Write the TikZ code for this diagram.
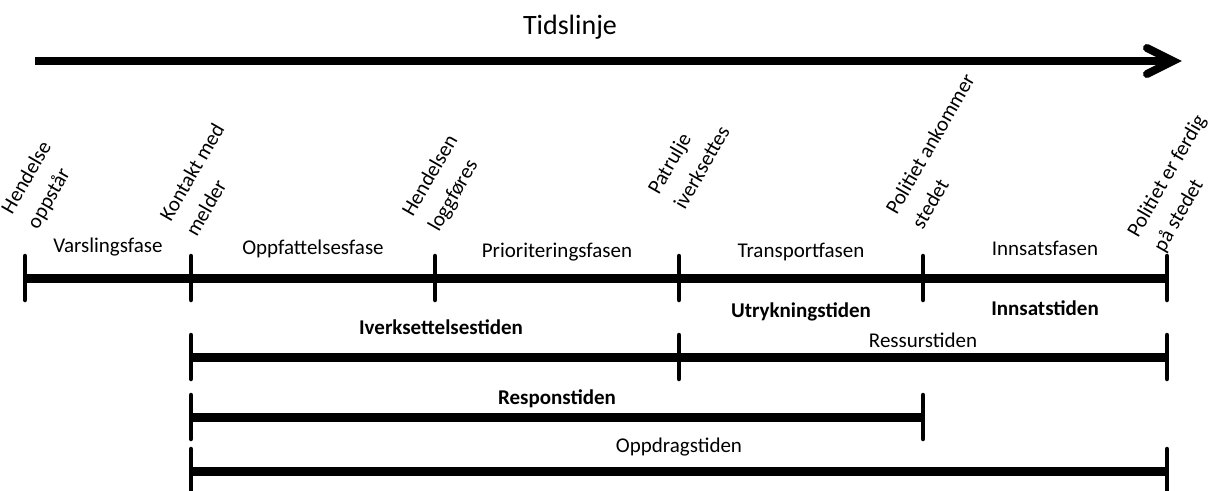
\documentclass[tikz,border=0pt]{standalone}
\usepackage{fontspec}
\setmainfont{Carlito}
\usetikzlibrary{arrows.meta, positioning, calc}

\begin{document}
\begin{tikzpicture}[
        x=1pt, y=-1pt,
        bar/.style={line width=9pt},
        tick/.style={line width=4.5pt, line cap=round},
        lbl/.style={font=\fontsize{21}{25}\selectfont, inner sep=0pt},
        blbl/.style={lbl, font=\fontsize{21}{25}\selectfont\bfseries},
        event/.style={lbl, font=\fontsize{21}{30}\selectfont, rotate=60, anchor=south west, align=left}
    ]
    \useasboundingbox (0,0) rectangle (1212,490);

    \coordinate (ts) at (35,61);
    \coordinate (te) at (1173,61);
    \node[font=\fontsize{28}{32}\selectfont] (title) at (570,27) {Tidslinje};
    \draw[line width=8pt] (ts) -- (te);
    \draw[line width=8pt, line cap=round, line join=miter] ($(te)+(-26,-13)$) -- (te) -- ($(te)+(-26,13)$);

    \coordinate (h0) at (25,278);
    \coordinate (h1) at (191,278);
    \coordinate (h2) at (435,278);
    \coordinate (h3) at (679,278);
    \coordinate (h4) at (923,278);
    \coordinate (h5) at (1167,278);

    \coordinate (r0) at (191,357);
    \coordinate (r1) at (679,357);
    \coordinate (r2) at (1167,357);

    \coordinate (s0) at (191,417);
    \coordinate (s1) at (923,417);

    \coordinate (o0) at (191,471);
    \coordinate (o1) at (1167,471);

    \draw[bar] (h0) -- (h5);
    \draw[bar] (r0) -- (r2);
    \draw[bar] (s0) -- (s1);
    \draw[bar] (o0) -- (o1);
    \foreach \p in {h0,h1,h2,h3,h4,h5,r0,r1,r2,s0,s1,o0,o1}
        \draw[tick] ([yshift=22pt]\p) -- ([yshift=-22pt]\p);

    \node[event] (e0) at ($(h0)+(16,-46)$) {Hendelse\\oppstår};
    \node[event] (e1) at ($(h1)+(6,-40)$) {Kontakt med\\melder};
    \node[event] (e2) at ($(h2)+(7,-43)$) {Hendelsen\\loggføres};
    \node[event] (e3) at ($(h3)+(6,-67)$) {Patrulje\\iverksettes};
    \node[event] (e4) at ($(h4)+(0,-47)$) {Politiet ankommer\\stedet};
    \node[event] (e5) at ($(h5)+(0,-23)$) {Politiet er ferdig\\på stedet};

    \node[lbl, above=22pt of $(h0)!.5!(h1)$] (varsling) {Varslingsfase};
    \node[lbl, above=20pt of $(h1)!.5!(h2)$] (oppfattelse) {Oppfattelsesfase};
    \node[lbl, above=17pt of $(h2)!.5!(h3)$] (prioritering) {Prioriteringsfasen};
    \node[lbl, above=17pt of $(h3)!.5!(h4)$] (transport) {Transportfasen};
    \node[lbl, above=22pt of $(h4)!.5!(h5)$] (innsatsfase) {Innsatsfasen};

    \node[blbl, below=25pt of $(h3)!.5!(h4)$] (utrykning) {Utrykningstiden};
    \node[blbl, below=23pt of $(h4)!.5!(h5)$] (innsats) {Innsatstiden};
    \node[blbl, above=22pt of $(r0)!.5!(r1)$, xshift=6pt] (iverksettelse) {Iverksettelsestiden};
    \node[lbl, above=9pt of $(r1)!.5!(r2)$] (ressurs) {Ressurstiden};
    \node[blbl, above=9pt of $(s0)!.5!(s1)$] (respons) {Responstiden};
    \node[lbl, above=15pt of $(o0)!.5!(o1)$] (oppdrag) {Oppdragstiden};
\end{tikzpicture}
\end{document}
